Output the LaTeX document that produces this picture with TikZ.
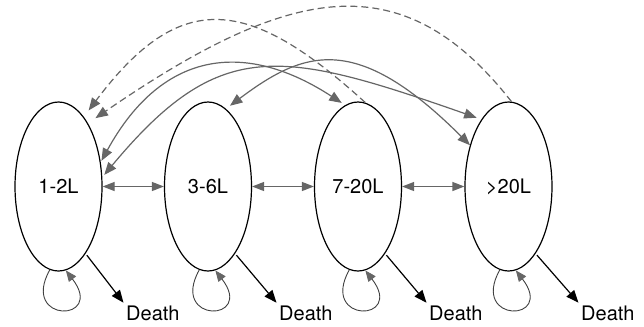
\documentclass[tikz,border=0pt]{standalone}
\usepackage{fontspec}
\setmainfont{TeX Gyre Heros}
\usetikzlibrary{arrows.meta,shapes.geometric}
\definecolor{linkgray}{HTML}{666666}
\begin{document}
\begin{tikzpicture}[x=1bp,y=-1bp,
  labelfont/.style={font=\fontsize{20bp}{24bp}\selectfont},
  state/.style={draw=black,line width=1.2bp,ellipse,minimum width=87bp,
    minimum height=169bp,inner sep=0pt,labelfont},
  deathlabel/.style={anchor=base west,inner sep=2.5bp,labelfont},
  sidelink/.style={draw=linkgray,line width=1.2bp,
    {Triangle[length=12bp,width=9bp]}-{Triangle[length=12bp,width=9bp]}},
  longlink/.style={draw=linkgray,line width=1.2bp,
    {Triangle[length=12.5bp,width=10bp]}-{Triangle[length=12.5bp,width=10bp]}},
  backlink/.style={draw=linkgray,line width=1.2bp,dash pattern=on 7bp off 4bp,
    -{Triangle[length=12.5bp,width=10bp]}},
  selfloop/.style={draw=black!75,line width=0.9bp,
    -{Triangle[length=11bp,width=9bp,color=linkgray]}},
  deatharrow/.style={draw=black,line width=1.2bp,
    -{Triangle[length=12.5bp,width=10bp]}}
]
\useasboundingbox (0,0) rectangle (644,326);

% states
\node[state] (e1) at (58.5,186.5) {1-2L};
\node[state] (e2) at (208,186.5) {3-6L};
\node[state] (e3) at (358,186.5) {7-20L};
\node[state] (e4) at (508.5,186.5) {>20L};

% death labels
\node[deathlabel] (d1) at (123.5,320) {Death};
\node[deathlabel] (d2) at (276.5,320) {Death};
\node[deathlabel] (d3) at (426.5,320) {Death};
\node[deathlabel] (d4) at (578.5,320) {Death};

% transitions between neighbouring states
\draw[sidelink] (e1.east) -- (e2.west);
\draw[sidelink] (e2.east) -- (e3.west);
\draw[sidelink] (e3.east) -- (e4.west);

% long-range transitions (both ways)
\draw[longlink, shorten <=1.5bp, shorten >=4bp]
  (e1.30) .. controls +(62.8,-114.3) and +(-97.6,-63.6) .. (e3.99);
\draw[longlink, shorten <=3bp, shorten >=5bp]
  (e1.12) .. controls +(116.7,-140.2) and +(-202,-70.8) .. (e4.112);
\draw[longlink, shorten <=5bp]
  (e2.77) .. controls +(77.9,-58.4) and +(-113.9,-114) .. (e4.133);

% recovery back to the smallest state
\draw[backlink, shorten >=8bp]
  (e3.85) .. controls +(-116.3,-105.7) and +(96.9,-129.4) .. (e1.70);
\draw[backlink, shorten >=9bp]
  (e4.88) .. controls +(-109.9,-140.1) and +(201.5,-138.1) .. (e1.65);

% staying in the same state
\draw[selfloop] (e1.-96) .. controls +(-30,54) and +(40,52) .. (e1.-85);
\draw[selfloop] (e2.-96) .. controls +(-30,54) and +(40,52) .. (e2.-85);
\draw[selfloop] (e3.-96) .. controls +(-30,54) and +(40,52) .. (e3.-85);
\draw[selfloop] (e4.-96) .. controls +(-30,54) and +(40,52) .. (e4.-85);

% death
\draw[deatharrow, shorten <=2bp] (e1.-68) -- (d1.north west);
\draw[deatharrow, shorten <=2bp] (e2.-68) -- (d2.north west);
\draw[deatharrow, shorten <=2bp] (e3.-68) -- (d3.north west);
\draw[deatharrow, shorten <=2bp] (e4.-68) -- (d4.north west);
\end{tikzpicture}
\end{document}
